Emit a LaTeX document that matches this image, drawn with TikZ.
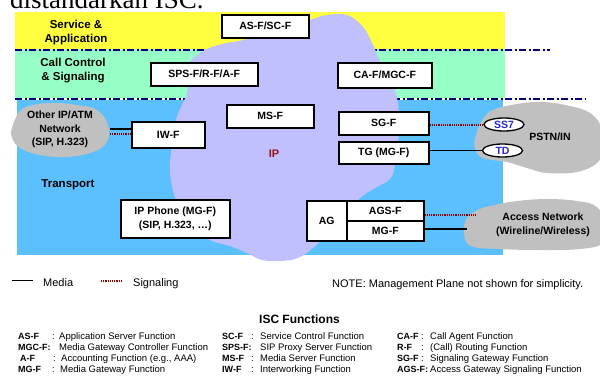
\documentclass[tikz,border=0pt]{standalone}
\usepackage{fontspec}
\setmainfont{Liberation Sans}
\newfontfamily\titlefont{Liberation Serif}
\usetikzlibrary{shapes.geometric,calc}

\definecolor{svcyellow}{RGB}{255,255,64}
\definecolor{ctlgreen}{RGB}{150,255,198}
\definecolor{tpblue}{RGB}{92,192,255}
\definecolor{iplav}{RGB}{192,192,255}
\definecolor{netgray}{RGB}{192,192,192}
\definecolor{planenavy}{RGB}{0,0,128}
\definecolor{sigred}{RGB}{140,0,0}
\definecolor{tagblue}{RGB}{40,40,210}
\definecolor{iplabel}{RGB}{150,20,20}

\begin{document}
\begin{tikzpicture}[x=1pt,y=-1pt,
  fbox/.style={draw=black,line width=1.5pt,fill=white,inner sep=0pt,anchor=north west,
    font=\bfseries\fontsize{10.5}{13.5}\selectfont,align=center},
  layerlbl/.style={font=\bfseries\fontsize{11.5}{14}\selectfont,align=center,inner sep=0pt},
  cloudlbl/.style={font=\bfseries\fontsize{10.5}{13.5}\selectfont,align=center,inner sep=0pt},
  planeline/.style={draw=planenavy,line width=2pt,dash pattern=on 7pt off 2.5pt on 2pt off 2.5pt},
  media/.style={draw=black,line width=1.6pt},
  signal/.style={draw=sigred,line width=2pt,dash pattern=on 1.2pt off 1pt},
  tag/.style={ellipse,draw=black,line width=1.3pt,fill=white,inner sep=0pt,
    minimum width=40pt,minimum height=13pt,text=tagblue,font=\bfseries\fontsize{10.5}{12}\selectfont},
  gabbr/.style={anchor=base west,inner sep=0pt,font=\bfseries\fontsize{9}{10}\selectfont},
  gdesc/.style={anchor=base west,inner sep=0pt,font=\fontsize{9.5}{10}\selectfont},
  plain/.style={anchor=base west,inner sep=0pt,font=\fontsize{11}{13}\selectfont},
  cloudshape/.style={smooth cycle,tension=0.65},
]
\useasboundingbox (0,0) rectangle (600,376);
\clip (0,0) rectangle (600,376);

% heading line above the figure
\node[anchor=base west,inner sep=0pt,font=\titlefont\fontsize{27}{30}\selectfont] (heading) at (10,8.5) {distandarkan ISC.};

% layer bands
\fill[svcyellow] (15,12) rectangle (505,49);
\fill[ctlgreen] (15,49) rectangle (505,98);
\fill[tpblue] (17,100) rectangle (503,255);

\node[layerlbl] (svclbl) at (76,33) {Service \&\\Application};
\node[layerlbl] (ctllbl) at (73,71) {Call Control\\\& Signaling};
\node[layerlbl] (tplbl) at (68,185) {Transport};

% plane boundaries
\draw[planeline] (15,49.5) -- (550,49.5);
\draw[planeline] (15,98.5) -- (585,98.5);

% IP core cloud
\fill[iplav] plot[cloudshape] coordinates {
  (190,62) (205,50) (222,44) (243,40) (265,33) (290,27) (310,20) (327,15)
  (347,15) (363,27) (373,45) (381,63) (391,80) (397,98) (399,120) (398,145)
  (395,165) (390,179) (375,188) (360,198) (345,215) (327,234) (313,248)
  (298,258) (280,261) (262,260) (247,253) (230,246) (210,240) (190,225)
  (176,200) (170,172) (172,145) (176,120) (182,105) (187,93) (188,78)};
\node[font=\bfseries\fontsize{11}{13}\selectfont,text=iplabel,inner sep=0pt] (iplbl) at (274,154) {IP};

% other IP/ATM network
\fill[netgray] plot[cloudshape] coordinates {
  (12,128) (20,111) (33,105) (53,103) (77,105) (97,110) (108,125) (107,142)
  (93,152) (67,157) (40,155) (20,148) (12,138)};
\node[cloudlbl] (oiplbl) at (60,129.5) {Other IP/ATM\\Network\\(SIP, H.323)};

% PSTN/IN cloud
\fill[netgray] plot[cloudshape] coordinates {
  (476,135) (483,119) (493,110) (517,104) (543,102) (570,106) (590,113)
  (601,127) (602,150) (597,163) (577,172) (547,173) (527,168) (507,162)
  (483,158) (475,148)};
\node[cloudlbl] (pstnlbl) at (550,137) {PSTN/IN};

% access network cloud
\fill[netgray] plot[cloudshape] coordinates {
  (467,218) (480,209) (495,205) (517,201) (547,199) (577,201) (597,207)
  (606,225) (603,243) (580,249) (540,250) (500,249) (471,246) (464,233)};
\node[cloudlbl] (acclbl) at (543,225) {Access Network\\(Wireline/Wireless)};

% functional entities
\node[fbox,minimum width=87pt,minimum height=23pt] (asf) at (221,14) {AS-F/SC-F};
\node[fbox,minimum width=107pt,minimum height=23pt] (spsf) at (150,62) {SPS-F/R-F/A-F};
\node[fbox,minimum width=94pt,minimum height=25pt] (caf) at (337,62) {CA-F/MGC-F};
\node[fbox,minimum width=87pt,minimum height=23pt] (msf) at (226,104) {MS-F};
\node[fbox,minimum width=73pt,minimum height=26pt] (iwf) at (131,121) {IW-F};
\node[fbox,minimum width=90pt,minimum height=23pt] (sgf) at (338,111) {SG-F};
\node[fbox,minimum width=90pt,minimum height=22pt] (tgf) at (338,141) {TG (MG-F)};
\node[fbox,minimum width=109pt,minimum height=38pt] (ipphone) at (120,199) {IP Phone (MG-F)\\(SIP, H.323, \ldots)};
\node[fbox,minimum width=40pt,minimum height=40pt] (ag) at (306,200) {AG};
\node[fbox,minimum width=77pt,minimum height=20pt] (agsf) at (346,200) {AGS-F};
\node[fbox,minimum width=77pt,minimum height=20pt] (mgf) at (346,220) {MG-F};

% PSTN interface tags
\node[tag] (ss7) at (504,124.5) {SS7};
\node[tag] (td) at (502.5,150.5) {TD};

% connector ends inside the clouds
\coordinate (oipmed) at (110,129);
\coordinate (oipsig) at (110,134);
\coordinate (accsig) at (476,214.5);
\coordinate (accmed) at (467,229);

% connectors
\draw[media] (oipmed) -- (oipmed -| iwf.west);
\draw[signal] (oipsig) -- (oipsig -| iwf.west);
\draw[signal] (sgf.east |- ss7.west) -- (ss7.west);
\draw[media] (tgf.east |- td.west) -- (td.west);
\draw[signal] (agsf.east |- accsig) -- (accsig);
\draw[media] (mgf.east |- accmed) -- (accmed);

% legend
\coordinate (lgm1) at (12,280.5);
\coordinate (lgm2) at (33,280.5);
\coordinate (lgs1) at (101,281);
\coordinate (lgs2) at (123,281);
\draw[media] (lgm1) -- (lgm2);
\draw[signal] (lgs1) -- (lgs2);
\node[plain] (lgmtxt) at (43,286) {Media};
\node[plain] (lgstxt) at (133,286) {Signaling};
\node[plain] (note) at (332,287) {NOTE: Management Plane not shown for simplicity.};

% glossary
\node[anchor=base,inner sep=0pt,font=\bfseries\fontsize{12}{14}\selectfont] (gtitle) at (299.5,323.5) {ISC Functions};

\node[gabbr] (a1) at (18,339) {AS-F};
\node[gdesc] (c1) at (52,339) {:};
\node[gdesc] (d1) at (59,339) {Application Server Function};
\node[gabbr] (a2) at (18,350) {MGC-F:};
\node[gdesc] (d2) at (59,350) {Media Gateway Controller Function};
\node[gabbr] (a3) at (20,361) {A-F};
\node[gdesc] (c3) at (53,361) {:};
\node[gdesc] (d3) at (61,361) {Accounting Function (e.g., AAA)};
\node[gabbr] (a4) at (18,372) {MG-F};
\node[gdesc] (c4) at (52,372) {:};
\node[gdesc] (d4) at (60,372) {Media Gateway Function};

\node[gabbr] (b1) at (222,339) {SC-F};
\node[gdesc] (e1) at (251,339) {:};
\node[gdesc] (f1) at (260,339) {Service Control Function};
\node[gabbr] (b2) at (222,350) {SPS-F:};
\node[gdesc] (f2) at (260,350) {SIP Proxy Server Function};
\node[gabbr] (b3) at (222,361) {MS-F};
\node[gdesc] (e3) at (251,361) {:};
\node[gdesc] (f3) at (260,361) {Media Server Function};
\node[gabbr] (b4) at (222,372) {IW-F};
\node[gdesc] (e4) at (251,372) {:};
\node[gdesc] (f4) at (260,372) {Interworking Function};

\node[gabbr] (h1) at (397,339) {CA-F};
\node[gdesc] (i1) at (421,339) {:};
\node[gdesc] (j1) at (430,339) {Call Agent Function};
\node[gabbr] (h2) at (397,350) {R-F};
\node[gdesc] (i2) at (421,350) {:};
\node[gdesc] (j2) at (430,350) {(Call) Routing Function};
\node[gabbr] (h3) at (397,361) {SG-F};
\node[gdesc] (i3) at (421,361) {:};
\node[gdesc] (j3) at (430,361) {Signaling Gateway Function};
\node[gabbr] (h4) at (397,372) {AGS-F:};
\node[gdesc] (j4) at (430,372) {Access Gateway Signaling Function};
\end{tikzpicture}
\end{document}
